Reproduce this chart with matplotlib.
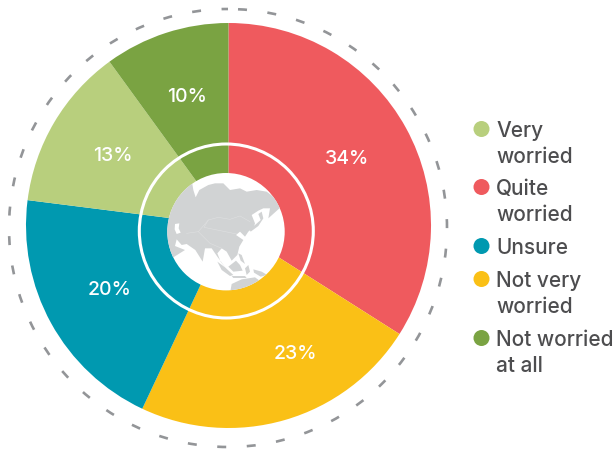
import matplotlib
matplotlib.use("Agg")
import matplotlib.pyplot as plt
from matplotlib.patches import Circle, Polygon

plt.rcParams["font.family"] = ["Inter", "DejaVu Sans"]

values = [34, 23, 20, 13, 10]
colors = ["#EF5A5E", "#FAC016", "#0099B0", "#B8CF7D", "#7AA342"]
label_pos = [(347, 159), (295, 354), (110, 290), (113, 156), (187, 97)]

legend_labels = ["Very\nworried", "Quite\nworried", "Unsure", "Not very\nworried", "Not worried\nat all"]
legend_colors = ["#B8CF7D", "#EF5A5E", "#0099B0", "#FAC016", "#7AA342"]
legend_y = [129, 187, 246, 279, 338]

LAND = "#D1D3D4"

asia = [(90, 260), (90, 180), (150, 120), (185, 120), (190, 150), (197, 172), (208, 150), (235, 135), (255, 130),
        (280, 130), (300, 150), (330, 145), (350, 155), (380, 150), (410, 155), (440, 178), (465, 190),
        (415, 235), (420, 205), (400, 205), (385, 212), (365, 225), (375, 250), (372, 260), (355, 275),
        (345, 290), (330, 275), (318, 285), (340, 300), (328, 320), (322, 345), (305, 362), (290, 335),
        (275, 325), (262, 340), (272, 365), (288, 385), (262, 350), (245, 325), (225, 325), (218, 365),
        (196, 330), (170, 312), (155, 315), (140, 298), (135, 318), (165, 330), (130, 352), (90, 360)]
islands = [
    [(375, 255), (392, 240), (385, 222), (395, 215), (400, 235), (385, 258), (362, 275), (358, 268)],
    [(262, 365), (285, 382), (310, 405), (300, 408), (275, 390)],
    [(305, 408), (345, 408), (350, 414), (310, 414)],
    [(295, 380), (318, 362), (330, 375), (338, 392), (310, 395)],
    [(325, 340), (335, 345), (345, 372), (332, 362)],
    [(345, 385), (355, 375), (360, 395), (350, 405)],
    [(370, 388), (395, 395), (412, 405), (392, 410), (372, 398)],
    [(300, 460), (305, 432), (335, 418), (375, 412), (400, 430), (380, 470)],
]
caspian = [(135, 252), (148, 250), (146, 265), (152, 278), (140, 282), (134, 268)]
borders = [
    [(205, 275), (235, 240), (265, 232), (300, 238), (330, 228), (360, 245)],
    [(170, 280), (205, 275), (240, 310), (275, 325)],
    [(235, 240), (222, 262), (320, 282)],
]


def px(points):
    # crop coordinates back to picture pixels
    return [(130 + x / 3, 140 + y / 3) for x, y in points]


def draw_map(ax, cx, cy, r):
    disc = Circle((cx, cy), r, fc="white", ec="none", zorder=3)
    ax.add_patch(disc)
    for shape in [asia] + islands:
        p = Polygon(px(shape), fc=LAND, ec="none", zorder=4)
        ax.add_patch(p)
        p.set_clip_path(disc)
    ax.add_patch(Polygon(px(caspian), fc="white", ec="none", zorder=5))
    for line in borders:
        xs, ys = zip(*px(line))
        ax.plot(xs, ys, color="#DFE0E1", lw=0.4, zorder=5)


fig = plt.figure(figsize=(6.15, 4.53), dpi=100)
ax = fig.add_axes([0, 0, 1, 1])

# y axis gets inverted below, so the angles run mirrored
wedges, _ = ax.pie(values, colors=colors, startangle=-90, counterclock=True,
                   center=(228.5, 225.5), radius=202.5, frame=True,
                   wedgeprops={"linewidth": 0})
ax.set_xlim(0, 615)
ax.set_ylim(453, 0)
ax.set_aspect("auto")
ax.axis("off")

# dashed outer ring and white inner ring
ax.add_patch(Circle((228, 228), 219, fc="none", ec="#939598", lw=1.9, ls=(7.4, (3.4, 7.8)), zorder=2))
ax.add_patch(Circle((226.3, 231), 87, fc="none", ec="white", lw=2.2, zorder=2))
draw_map(ax, 226, 231.7, 58.7)

for v, (x, y) in zip(values, label_pos):
    ax.text(x, y, f"{v}%", color="white", fontsize=14, fontweight="medium", ha="center", va="center", zorder=6)

for name, col, y in zip(legend_labels, legend_colors, legend_y):
    ax.add_patch(Circle((481.5, y), 8, fc=col, ec="none"))
    ax.text(496, y - 8, name, color="#4D4D4F", fontsize=15, fontweight="medium", ha="left", va="top", linespacing=1.38)

fig.savefig("out.png", dpi=100)
